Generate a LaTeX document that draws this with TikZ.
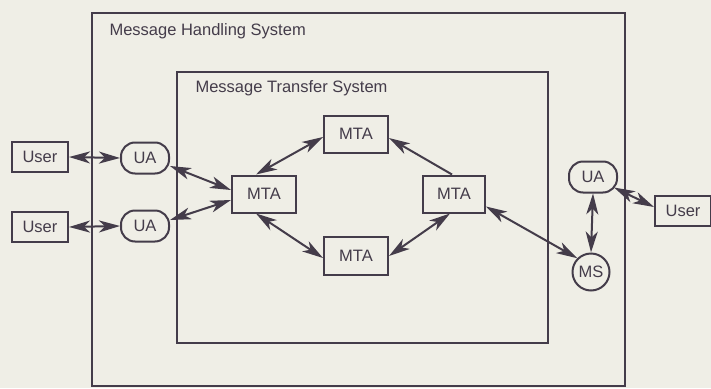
\documentclass[tikz,border=0pt]{standalone}
\usepackage{fontspec}
\setmainfont{Liberation Sans}
\usetikzlibrary{arrows.meta}
\definecolor{ink}{RGB}{68,60,74}
\definecolor{paper}{RGB}{239,238,230}
\begin{document}
\begin{tikzpicture}[x=1pt,y=-1pt,
  every node/.style={font=\fontsize{16.5}{19}\selectfont, text=ink},
  box/.style={draw=ink, line width=2pt, inner sep=0pt},
  ua/.style={draw=ink, line width=2pt, rounded corners=14pt, minimum width=48pt, minimum height=31pt, inner sep=0pt},
  ms/.style={draw=ink, line width=2pt, circle, minimum size=37pt, inner sep=0pt},
  headtip/.tip={Stealth[length=21pt,width=12pt,inset=6pt]},
  link/.style={draw=ink, line width=2pt, headtip-headtip},
  onelink/.style={draw=ink, line width=2pt, -headtip},
  frame/.style={draw=ink, line width=2pt}]
\fill[paper] (0,0) rectangle (711,388);
\useasboundingbox (0,0) rectangle (711,388);
% frames
\draw[frame] (92,13) rectangle (625,386);
\draw[frame] (177,72) rectangle (548,343);
\node[anchor=west] (mhs) at (106,31) {Message Handling System};
\node[anchor=west] (mts) at (192,88) {Message Transfer System};
% users and UAs
\node[box, minimum width=56pt, minimum height=30pt] (user1) at (40,157) {User};
\node[box, minimum width=56pt, minimum height=30pt] (user2) at (40,227) {User};
\node[ua] (ua1) at (145,158) {UA};
\node[ua] (ua2) at (145,226) {UA};
% MTAs
\node[box, minimum width=64pt, minimum height=37pt] (mtal) at (264,194) {MTA};
\node[box, minimum width=64pt, minimum height=37pt] (mtat) at (356,134) {MTA};
\node[box, minimum width=64pt, minimum height=38pt] (mtab) at (356,256) {MTA};
\node[box, minimum width=62pt, minimum height=37pt] (mtar) at (454,194) {MTA};
% right side
\node[ua] (ua3) at (593,177) {UA};
\node[ms] (ms) at (591,272) {MS};
\node[box, minimum width=56pt, minimum height=30pt] (user3) at (683,211) {User};
% connectors
\draw[link] (user1.east) -- (ua1.west);
\draw[link] (user2.east) -- (ua2.west);
\draw[link] ([yshift=-8pt]ua1.east) -- ([yshift=4pt]mtal.west);
\draw[link] ([yshift=6pt]ua2.east) -- ([yshift=-6pt]mtal.west);
\draw[link] ([xshift=-8pt]mtal.north) -- ([yshift=-3pt]mtat.west);
\draw[onelink] ([xshift=-2pt]mtar.north) -- ([yshift=-4pt]mtat.east);
\draw[link] ([xshift=-8pt]mtal.south) -- ([yshift=-2pt]mtab.west);
\draw[link] (mtab.east) -- ([xshift=-4pt]mtar.south);
\draw[link] ([yshift=7pt]mtar.south east) -- (ms.north west);
\draw[link] (ua3.south) -- (ms.north);
\draw[link] ([xshift=-4pt,yshift=6pt]ua3.south east) -- ([yshift=4pt]user3.west);
\end{tikzpicture}
\end{document}
